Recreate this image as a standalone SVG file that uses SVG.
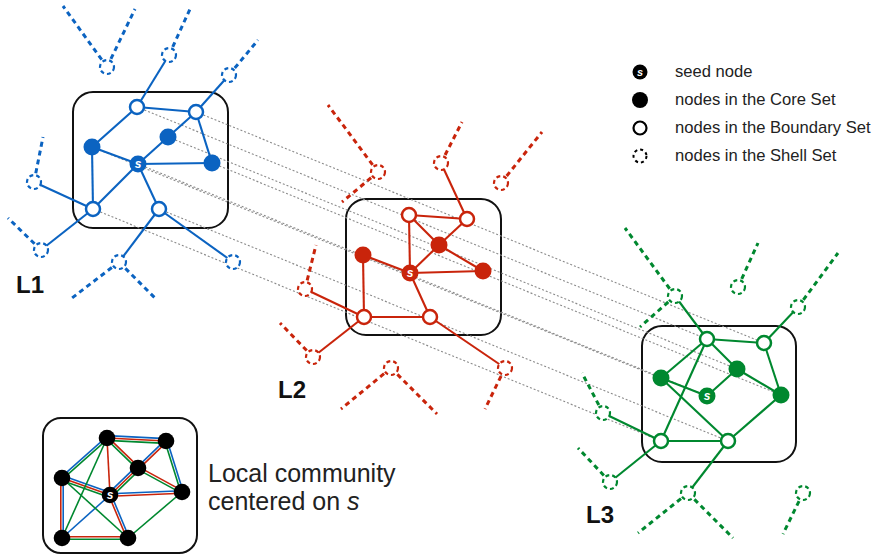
<svg xmlns="http://www.w3.org/2000/svg" width="875" height="558" viewBox="0 0 875 558">
<style>
.L1{color:#0b63c1}
.L2{color:#c9240b}
.L3{color:#00882f}
.gray{stroke:#8a8a8a;stroke-width:1.1;stroke-dasharray:2 2;fill:none}
.box{fill:none;stroke:#111;stroke-width:2}
.e{stroke:currentColor;stroke-width:2.1;fill:none}
.d{stroke:currentColor;stroke-width:3;stroke-dasharray:5 4;fill:none}
.ce{stroke-width:1.6;fill:none}
.cb{stroke:#0b63c1}.cr{stroke:#c9240b}.cg{stroke:#00882f}
.core{fill:currentColor}
.bnd{fill:#fff;stroke:currentColor;stroke-width:2.5}
.shell{fill:#fff;stroke:currentColor;stroke-width:2.2;stroke-dasharray:4 3}
.seed{fill:currentColor}
.st{fill:#fff;font-family:"Liberation Sans",Arial,sans-serif;font-weight:bold;font-style:italic;font-size:12px;text-anchor:middle}
.lbl{font-family:"Liberation Sans",Arial,sans-serif;font-weight:bold;font-size:24px;fill:#111}
.leg{font-family:"Liberation Sans",Arial,sans-serif;font-size:16.6px;fill:#222}
.com{font-family:"Liberation Sans",Arial,sans-serif;font-size:25px;fill:#222}
</style>
<g id="boxes">
<rect id="box-L1" class="box" x="73" y="92" width="155" height="136" rx="20"/>
<rect id="box-L2" class="box" x="346" y="199" width="155" height="136" rx="20"/>
<rect id="box-L3" class="box" x="642" y="326" width="154" height="136" rx="20"/>
<rect id="box-community" class="box" x="43" y="418" width="154" height="135" rx="18"/>
</g>
<g id="connectors">
<g id="interlayer">
<line class="gray" x1="137" y1="107" x2="707" y2="339"/>
<line class="gray" x1="196" y1="112" x2="764" y2="343"/>
<line class="gray" x1="168" y1="137" x2="737" y2="369"/>
<line class="gray" x1="92" y1="147" x2="661" y2="378"/>
<line class="gray" x1="138" y1="164" x2="707" y2="396"/>
<line class="gray" x1="212" y1="163" x2="781" y2="395"/>
<line class="gray" x1="93" y1="209" x2="661" y2="441"/>
<line class="gray" x1="159" y1="209" x2="728" y2="441"/>
</g>
<g id="edges-L1" class="L1">
<line class="e" x1="137" y1="107" x2="196" y2="112"/>
<line class="e" x1="137" y1="107" x2="92" y2="147"/>
<line class="e" x1="168" y1="137" x2="196" y2="112"/>
<line class="e" x1="196" y1="112" x2="212" y2="163"/>
<line class="e" x1="138" y1="164" x2="168" y2="137"/>
<line class="e" x1="138" y1="164" x2="92" y2="147"/>
<line class="e" x1="92" y1="147" x2="93" y2="209"/>
<line class="e" x1="138" y1="164" x2="212" y2="163"/>
<line class="e" x1="138" y1="164" x2="93" y2="209"/>
<line class="e" x1="138" y1="164" x2="159" y2="209"/>
<line class="e" x1="137" y1="107" x2="169" y2="55"/>
<line class="e" x1="196" y1="112" x2="229" y2="75"/>
<line class="e" x1="93" y1="209" x2="34" y2="182"/>
<line class="e" x1="93" y1="209" x2="41" y2="250"/>
<line class="e" x1="159" y1="209" x2="119" y2="262"/>
<line class="e" x1="159" y1="209" x2="233" y2="262"/>
<line class="d" x1="107" y1="67" x2="63" y2="6"/>
<line class="d" x1="107" y1="67" x2="135" y2="9"/>
<line class="d" x1="169" y1="55" x2="190" y2="9"/>
<line class="d" x1="229" y1="75" x2="258" y2="40"/>
<line class="d" x1="34" y1="182" x2="43" y2="137"/>
<line class="d" x1="41" y1="250" x2="8" y2="218"/>
<line class="d" x1="119" y1="262" x2="72" y2="298"/>
<line class="d" x1="119" y1="262" x2="157" y2="300"/>
</g>
<g id="edges-L2" class="L2">
<line class="e" x1="409" y1="215" x2="467" y2="219"/>
<line class="e" x1="409" y1="215" x2="439" y2="245"/>
<line class="e" x1="467" y1="219" x2="439" y2="245"/>
<line class="e" x1="409" y1="215" x2="410" y2="273"/>
<line class="e" x1="439" y1="245" x2="410" y2="273"/>
<line class="e" x1="439" y1="245" x2="483" y2="271"/>
<line class="e" x1="410" y1="273" x2="483" y2="271"/>
<line class="e" x1="363" y1="255" x2="410" y2="273"/>
<line class="e" x1="363" y1="255" x2="364" y2="317"/>
<line class="e" x1="410" y1="273" x2="430" y2="317"/>
<line class="e" x1="364" y1="317" x2="430" y2="317"/>
<line class="e" x1="467" y1="219" x2="441" y2="163"/>
<line class="e" x1="364" y1="317" x2="305" y2="289"/>
<line class="e" x1="364" y1="317" x2="313" y2="357"/>
<line class="e" x1="430" y1="317" x2="505" y2="368"/>
<line class="d" x1="441" y1="163" x2="462" y2="122"/>
<line class="d" x1="378" y1="172" x2="328" y2="105"/>
<line class="d" x1="378" y1="172" x2="342" y2="202"/>
<line class="d" x1="501" y1="183" x2="542" y2="132"/>
<line class="d" x1="305" y1="289" x2="316" y2="245"/>
<line class="d" x1="313" y1="357" x2="280" y2="323"/>
<line class="d" x1="391" y1="368" x2="341" y2="409"/>
<line class="d" x1="391" y1="368" x2="437" y2="414"/>
<line class="d" x1="505" y1="368" x2="485" y2="409"/>
</g>
<g id="edges-L3" class="L3">
<line class="e" x1="707" y1="339" x2="764" y2="343"/>
<line class="e" x1="707" y1="339" x2="737" y2="369"/>
<line class="e" x1="707" y1="339" x2="661" y2="378"/>
<line class="e" x1="707" y1="339" x2="661" y2="441"/>
<line class="e" x1="764" y1="343" x2="781" y2="395"/>
<line class="e" x1="737" y1="369" x2="781" y2="395"/>
<line class="e" x1="737" y1="369" x2="707" y2="396"/>
<line class="e" x1="661" y1="378" x2="707" y2="396"/>
<line class="e" x1="661" y1="378" x2="728" y2="441"/>
<line class="e" x1="781" y1="395" x2="728" y2="441"/>
<line class="e" x1="661" y1="441" x2="728" y2="441"/>
<line class="e" x1="707" y1="339" x2="675" y2="296"/>
<line class="e" x1="764" y1="343" x2="798" y2="307"/>
<line class="e" x1="661" y1="441" x2="603" y2="413"/>
<line class="e" x1="661" y1="441" x2="610" y2="482"/>
<line class="e" x1="728" y1="441" x2="688" y2="493"/>
<line class="d" x1="675" y1="296" x2="625" y2="228"/>
<line class="d" x1="675" y1="296" x2="640" y2="327"/>
<line class="d" x1="738" y1="287" x2="758" y2="243"/>
<line class="d" x1="798" y1="307" x2="838" y2="253"/>
<line class="d" x1="603" y1="413" x2="582" y2="373"/>
<line class="d" x1="610" y1="482" x2="578" y2="448"/>
<line class="d" x1="688" y1="493" x2="638" y2="533"/>
<line class="d" x1="688" y1="493" x2="733" y2="538"/>
<line class="d" x1="803" y1="493" x2="783" y2="534"/>
</g>
<g id="edges-community">
<line class="ce cb" x1="107.1" y1="435.6" x2="166.1" y2="438.6"/>
<line class="ce cr" x1="107" y1="438" x2="166" y2="441"/>
<line class="ce cg" x1="106.9" y1="440.4" x2="165.9" y2="443.4"/>
<line class="ce cb" x1="106.2" y1="437.1" x2="61.2" y2="477.1"/>
<line class="ce cg" x1="107.8" y1="438.9" x2="62.8" y2="478.9"/>
<line class="ce cb" x1="165.2" y1="440.1" x2="137.2" y2="467.1"/>
<line class="ce cr" x1="166.8" y1="441.9" x2="138.8" y2="468.9"/>
<line class="ce cb" x1="167.1" y1="440.6" x2="183.1" y2="491.6"/>
<line class="ce cg" x1="164.9" y1="441.4" x2="180.9" y2="492.4"/>
<line class="ce cb" x1="136.3" y1="466.3" x2="108.3" y2="493.3"/>
<line class="ce cr" x1="138" y1="468" x2="110" y2="495"/>
<line class="ce cg" x1="139.7" y1="469.7" x2="111.7" y2="496.7"/>
<line class="ce cb" x1="62.8" y1="475.7" x2="110.8" y2="492.7"/>
<line class="ce cr" x1="62" y1="478" x2="110" y2="495"/>
<line class="ce cg" x1="61.2" y1="480.3" x2="109.2" y2="497.3"/>
<line class="ce cr" x1="60.8" y1="478" x2="60.8" y2="538"/>
<line class="ce cb" x1="63.2" y1="478" x2="63.2" y2="538"/>
<line class="ce cb" x1="110" y1="493.8" x2="182" y2="490.8"/>
<line class="ce cr" x1="110" y1="496.2" x2="182" y2="493.2"/>
<line class="ce cb" x1="110" y1="495" x2="62" y2="538"/>
<line class="ce cb" x1="111.1" y1="494.5" x2="129.1" y2="537.5"/>
<line class="ce cr" x1="108.9" y1="495.5" x2="126.9" y2="538.5"/>
<line class="ce cr" x1="107.8" y1="437.1" x2="138.8" y2="467.1"/>
<line class="ce cg" x1="106.2" y1="438.9" x2="137.2" y2="468.9"/>
<line class="ce cr" x1="107" y1="438" x2="110" y2="495"/>
<line class="ce cr" x1="138.6" y1="466.9" x2="182.6" y2="490.9"/>
<line class="ce cg" x1="137.4" y1="469.1" x2="181.4" y2="493.1"/>
<line class="ce cr" x1="62" y1="536.8" x2="128" y2="536.8"/>
<line class="ce cg" x1="62" y1="539.2" x2="128" y2="539.2"/>
<line class="ce cg" x1="107" y1="438" x2="62" y2="538"/>
<line class="ce cg" x1="62" y1="478" x2="128" y2="538"/>
<line class="ce cg" x1="182" y1="492" x2="128" y2="538"/>
</g>
</g>
<g id="nodes-L1" class="L1">
<g id="L1-B1"><circle class="bnd" cx="137" cy="107" r="7"/></g>
<g id="L1-B2"><circle class="bnd" cx="196" cy="112" r="7"/></g>
<g id="L1-C1"><circle class="core" cx="168" cy="137" r="8.5"/></g>
<g id="L1-C2"><circle class="core" cx="92" cy="147" r="8.5"/></g>
<g id="L1-S"><circle class="seed" cx="138" cy="164" r="8.5"/><text class="st" x="138" y="168">s</text></g>
<g id="L1-C3"><circle class="core" cx="212" cy="163" r="8.5"/></g>
<g id="L1-B3"><circle class="bnd" cx="93" cy="209" r="7"/></g>
<g id="L1-B4"><circle class="bnd" cx="159" cy="209" r="7"/></g>
<g id="L1-sh1"><circle class="shell" cx="107" cy="67" r="7"/></g>
<g id="L1-sh2"><circle class="shell" cx="169" cy="55" r="7"/></g>
<g id="L1-sh3"><circle class="shell" cx="229" cy="75" r="7"/></g>
<g id="L1-sh4"><circle class="shell" cx="34" cy="182" r="7"/></g>
<g id="L1-sh5"><circle class="shell" cx="41" cy="250" r="7"/></g>
<g id="L1-sh6"><circle class="shell" cx="119" cy="262" r="7"/></g>
<g id="L1-sh7"><circle class="shell" cx="233" cy="262" r="7"/></g>
</g>
<g id="nodes-L2" class="L2">
<g id="L2-B1"><circle class="bnd" cx="409" cy="215" r="7"/></g>
<g id="L2-B2"><circle class="bnd" cx="467" cy="219" r="7"/></g>
<g id="L2-C1"><circle class="core" cx="439" cy="245" r="8.5"/></g>
<g id="L2-C2"><circle class="core" cx="363" cy="255" r="8.5"/></g>
<g id="L2-S"><circle class="seed" cx="410" cy="273" r="8.5"/><text class="st" x="410" y="277">s</text></g>
<g id="L2-C3"><circle class="core" cx="483" cy="271" r="8.5"/></g>
<g id="L2-B3"><circle class="bnd" cx="364" cy="317" r="7"/></g>
<g id="L2-B4"><circle class="bnd" cx="430" cy="317" r="7"/></g>
<g id="L2-sh1"><circle class="shell" cx="441" cy="163" r="7"/></g>
<g id="L2-sh2"><circle class="shell" cx="378" cy="172" r="7"/></g>
<g id="L2-sh3"><circle class="shell" cx="501" cy="183" r="7"/></g>
<g id="L2-sh4"><circle class="shell" cx="305" cy="289" r="7"/></g>
<g id="L2-sh5"><circle class="shell" cx="313" cy="357" r="7"/></g>
<g id="L2-sh6"><circle class="shell" cx="391" cy="368" r="7"/></g>
<g id="L2-sh7"><circle class="shell" cx="505" cy="368" r="7"/></g>
</g>
<g id="nodes-L3" class="L3">
<g id="L3-B1"><circle class="bnd" cx="707" cy="339" r="7"/></g>
<g id="L3-B2"><circle class="bnd" cx="764" cy="343" r="7"/></g>
<g id="L3-C1"><circle class="core" cx="737" cy="369" r="8.5"/></g>
<g id="L3-C2"><circle class="core" cx="661" cy="378" r="8.5"/></g>
<g id="L3-S"><circle class="seed" cx="707" cy="396" r="8.5"/><text class="st" x="707" y="400">s</text></g>
<g id="L3-C3"><circle class="core" cx="781" cy="395" r="8.5"/></g>
<g id="L3-B3"><circle class="bnd" cx="661" cy="441" r="7"/></g>
<g id="L3-B4"><circle class="bnd" cx="728" cy="441" r="7"/></g>
<g id="L3-sh1"><circle class="shell" cx="675" cy="296" r="7"/></g>
<g id="L3-sh2"><circle class="shell" cx="738" cy="287" r="7"/></g>
<g id="L3-sh3"><circle class="shell" cx="798" cy="307" r="7"/></g>
<g id="L3-sh4"><circle class="shell" cx="603" cy="413" r="7"/></g>
<g id="L3-sh5"><circle class="shell" cx="610" cy="482" r="7"/></g>
<g id="L3-sh6"><circle class="shell" cx="688" cy="493" r="7"/></g>
<g id="L3-sh7"><circle class="shell" cx="803" cy="493" r="7"/></g>
</g>
<g id="nodes-community" style="color:#000">
<g id="C-n1"><circle class="core" cx="107" cy="438" r="8.3"/></g>
<g id="C-n2"><circle class="core" cx="166" cy="441" r="8.3"/></g>
<g id="C-n3"><circle class="core" cx="138" cy="468" r="8.3"/></g>
<g id="C-n4"><circle class="core" cx="62" cy="478" r="8.3"/></g>
<g id="C-s"><circle class="seed" cx="110" cy="495" r="8.3"/><text class="st" x="110" y="499">s</text></g>
<g id="C-n5"><circle class="core" cx="182" cy="492" r="8.3"/></g>
<g id="C-n6"><circle class="core" cx="62" cy="538" r="8.3"/></g>
<g id="C-n7"><circle class="core" cx="128" cy="538" r="8.3"/></g>
</g>
<g id="labels">
<text class="lbl" x="16" y="293">L1</text>
<text class="lbl" x="278" y="398">L2</text>
<text class="lbl" x="586" y="523">L3</text>
<text class="com" x="208" y="482">Local community</text>
<text class="com" x="208" y="510">centered on <tspan font-style="italic">s</tspan></text>
</g>
<g id="legend" style="color:#000">
<g id="leg-seed"><circle class="seed" cx="640" cy="72" r="7.5"/><text class="st" x="640" y="76" style="font-size:11px">s</text><text class="leg" x="675" y="77">seed node</text></g>
<g id="leg-core"><circle class="core" cx="640" cy="100" r="8"/><text class="leg" x="675" y="105">nodes in the Core Set</text></g>
<g id="leg-boundary"><circle class="bnd" cx="640" cy="128" r="6.5" style="stroke-width:2.2"/><text class="leg" x="675" y="133">nodes in the Boundary Set</text></g>
<g id="leg-shell"><circle class="shell" cx="640" cy="156" r="6.5" style="stroke-width:2;stroke-dasharray:3 3"/><text class="leg" x="675" y="161">nodes in the Shell Set</text></g>
</g>
</svg>
